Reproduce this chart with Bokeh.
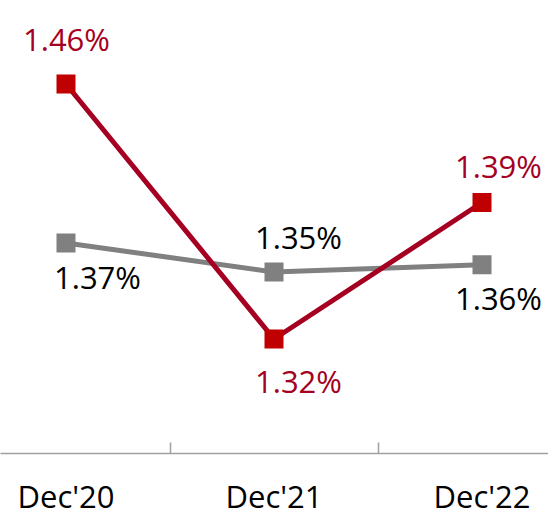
from bokeh.plotting import figure
from bokeh.models import Range1d, FixedTicker, ColumnDataSource
from bokeh.core.properties import value
from bokeh.embed import file_html
from bokeh.resources import INLINE

categories = ["Dec'20", "Dec'21", "Dec'22"]
red_values = [1.46, 1.318, 1.394]
gray_values = [1.372, 1.352, 1.357]
red_labels = ["1.46%", "1.32%", "1.39%"]
gray_labels = ["1.37%", "1.35%", "1.36%"]

# label placement (pixels, relative to point)
red_dx = [0.5, 24.5, 16.5]
red_dy = [-45.0, 41.5, -37.0]
gray_dx = [31.5, 24.5, 16.5]
gray_dy = [33.5, -35.0, 33.5]

FONT = "Open Sans"
RED_LINE = "#A50021"
RED_MARK = "#C00000"
GRAY = "#808080"

xs = list(range(len(categories)))

p = figure(frame_width=548, frame_height=453, output_backend="svg", toolbar_location=None,
           x_range=Range1d(-0.3149, 2.3197), y_range=Range1d(1.25424, 1.5065),
           y_axis_location=None, min_border_left=0, min_border_right=0,
           min_border_top=0, min_border_bottom=0)
p.extra_y_ranges = {"gray": Range1d(1.22683, 1.53924)}
p.outline_line_color = None
p.xgrid.visible = False
p.ygrid.visible = False
p.background_fill_color = "white"
p.border_fill_color = "white"

ax = p.xaxis[0]
ax.ticker = FixedTicker(ticks=xs, minor_ticks=[0.5, 1.5])
ax.major_label_overrides = {i: c for i, c in zip(xs, categories)}
ax.major_tick_in = 0
ax.major_tick_out = 0
ax.minor_tick_in = 11
ax.minor_tick_out = 0
ax.minor_tick_line_color = "#A0A0A0"
ax.minor_tick_line_width = 1.5
ax.axis_line_color = "#A0A0A0"
ax.axis_line_width = 1.5
ax.major_label_text_font = FONT
ax.major_label_text_font_size = "31px"
ax.major_label_text_line_height = 1.0
ax.major_label_text_color = "black"
ax.major_label_standoff = 21

gsrc = ColumnDataSource(dict(x=xs, y=gray_values, t=gray_labels, dx=gray_dx, dy=gray_dy))
rsrc = ColumnDataSource(dict(x=xs, y=red_values, t=red_labels, dx=red_dx, dy=red_dy))

p.line("x", "y", source=gsrc, y_range_name="gray", line_color=GRAY, line_width=5)
p.scatter("x", "y", source=gsrc, y_range_name="gray", marker="square", size=19,
          fill_color=GRAY, line_color=GRAY, line_width=0)
p.line("x", "y", source=rsrc, line_color=RED_LINE, line_width=5)
p.scatter("x", "y", source=rsrc, marker="square", size=19,
          fill_color=RED_MARK, line_color=RED_MARK, line_width=0)

p.text("x", "y", text="t", source=gsrc, y_range_name="gray", x_offset="dx", y_offset="dy",
       text_font=value(FONT), text_font_size="31px", text_color="black",
       text_align="center", text_baseline="alphabetic")
p.text("x", "y", text="t", source=rsrc, x_offset="dx", y_offset="dy",
       text_font=value(FONT), text_font_size="31px", text_color=RED_LINE,
       text_align="center", text_baseline="alphabetic")

open("out.html", "w").write(file_html(p, INLINE))
